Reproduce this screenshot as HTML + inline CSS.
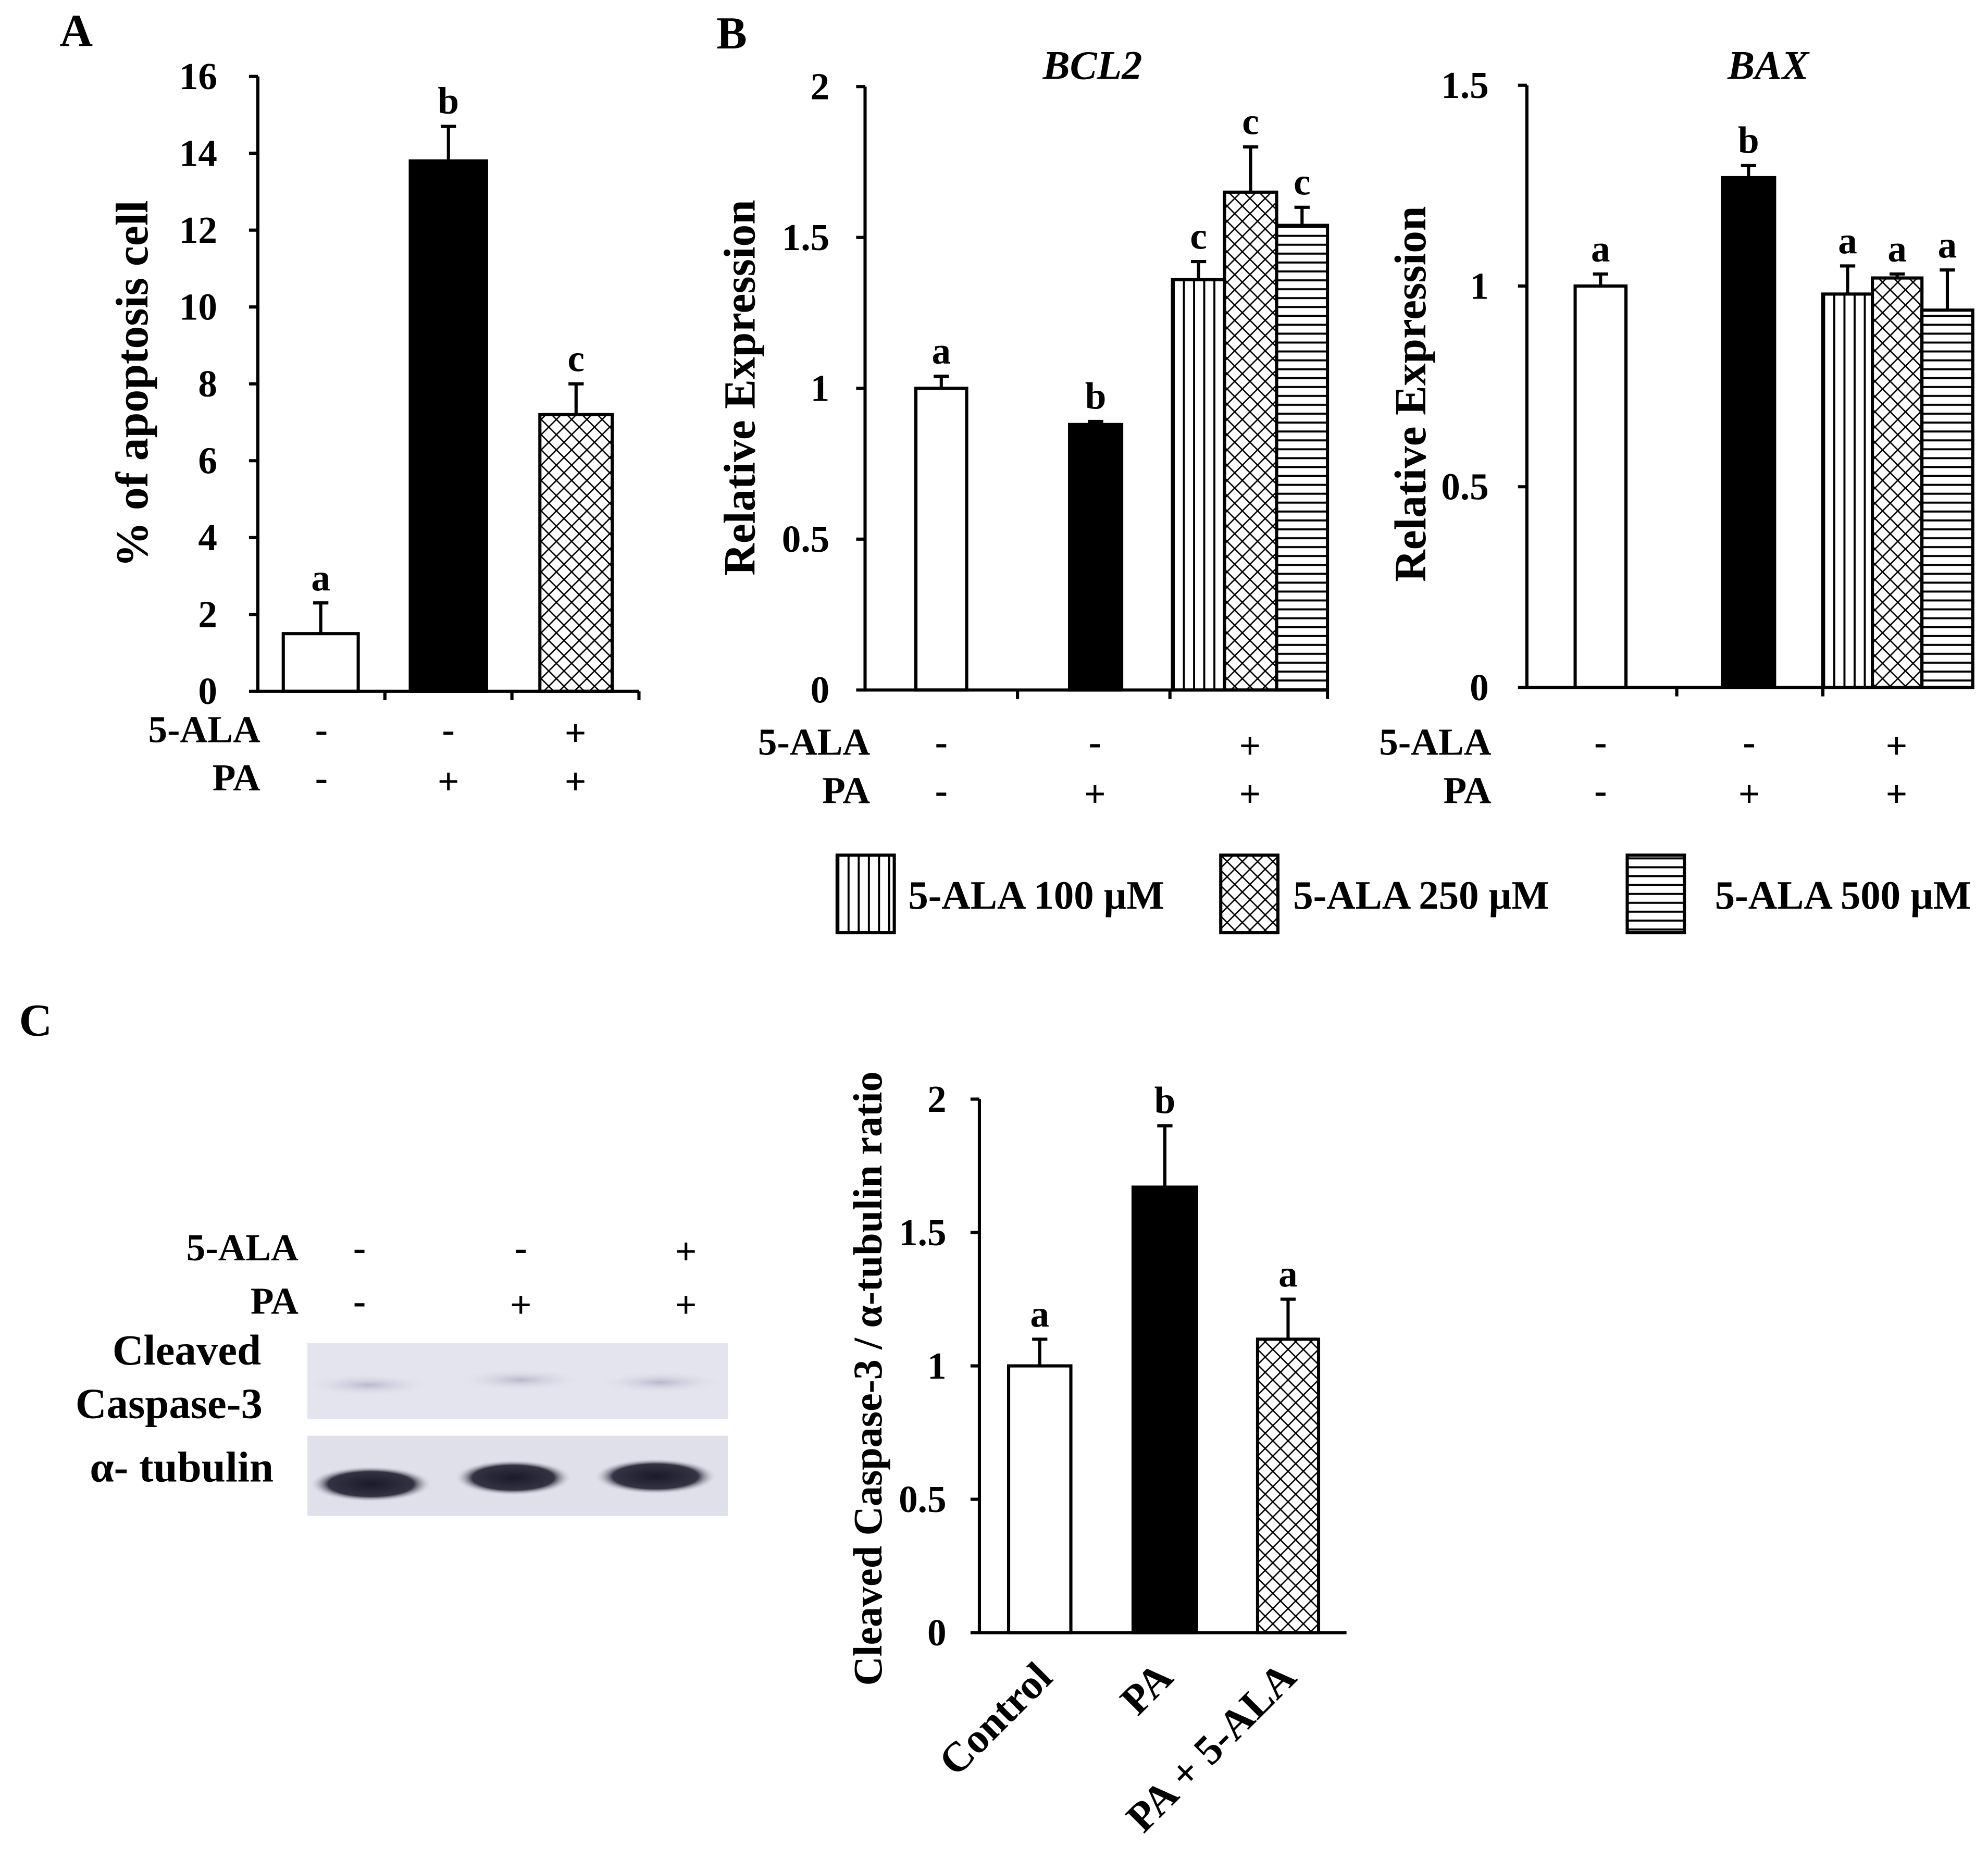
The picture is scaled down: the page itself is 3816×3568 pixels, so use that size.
<!DOCTYPE html>
<html><head><meta charset="utf-8"><style>
html,body{margin:0;padding:0;background:#fff}
svg{display:block}
text{font-family:"Liberation Serif",serif;font-weight:bold;fill:#000}
</style></head><body>
<svg id="s" width="3816" height="3568" viewBox="0 0 1565 1463" xmlns="http://www.w3.org/2000/svg">
<defs>
<pattern id="pv" width="8" height="8" patternUnits="userSpaceOnUse"><rect width="8" height="8" fill="#fff"/><line x1="4" y1="0" x2="4" y2="8" stroke="#000" stroke-width="1.6"/></pattern>
<pattern id="ph" width="7" height="7" patternUnits="userSpaceOnUse"><rect width="7" height="7" fill="#fff"/><line x1="0" y1="3.5" x2="7" y2="3.5" stroke="#000" stroke-width="1.6"/></pattern>
<pattern id="px" width="12" height="12" patternUnits="userSpaceOnUse"><rect width="12" height="12" fill="#fff"/><path d="M0 0L12 12M12 0L0 12" stroke="#000" stroke-width="1.1"/></pattern>
<radialGradient id="band" cx="50%" cy="50%" r="50%"><stop offset="0" stop-color="#1a1a2a"/><stop offset="0.7" stop-color="#333344"/><stop offset="1" stop-color="#dcdce8" stop-opacity="0"/></radialGradient>
<radialGradient id="fband" cx="50%" cy="50%" r="50%"><stop offset="0" stop-color="#b8b8cc"/><stop offset="1" stop-color="#e6e6f0" stop-opacity="0"/></radialGradient>
</defs>
<g id="root"></g>
</svg>
<script>
// ---- Panel A data ----
const aValues=[1.5,13.8,7.2];
const aErrors=[0.8,0.9,0.8];
const aLetters=["a","b","c"];
const aTicks=[0,2,4,6,8,10,12,14,16];
// ---- Panel B BCL2 ----
const bclValues=[1.0,0.88,1.36,1.65,1.54];
const bclErrors=[0.04,0.01,0.06,0.15,0.06];
const bclLetters=["a","b","c","c","c"];
const bclTicks=[0,0.5,1,1.5,2];
// ---- Panel B BAX ----
const baxValues=[1.0,1.27,0.98,1.02,0.94];
const baxErrors=[0.03,0.03,0.07,0.01,0.1];
const baxLetters=["a","b","a","a","a"];
const baxTicks=[0,0.5,1,1.5];
// ---- Panel C ----
const cCategories=["Control","PA","PA + 5-ALA"];
const cValues=[1.0,1.67,1.1];
const cErrors=[0.1,0.23,0.15];
const cLetters=["a","b","a"];
const cTicks=[0,0.5,1,1.5,2];

const NS="http://www.w3.org/2000/svg";
const root=document.getElementById('root');
function mk(tag,attrs,parent,txt){const e=document.createElementNS(NS,tag);for(const k in attrs)e.setAttribute(k,attrs[k]);if(txt!==undefined)e.textContent=txt;(parent||root).appendChild(e);return e;}
function txt(x,y,s,size,anchor,parent,extra){const e=mk('text',Object.assign({x:x,y:y,'font-size':size,'text-anchor':anchor||'middle'},extra||{}),parent,s);return e;}

function chart(cfg){
  const g=mk('g',{});
  
  
  const y=v=>cfg.y0-(v/cfg.max)*(cfg.y0-cfg.yTop);
  cfg.values.forEach((v,i)=>{
    const b=cfg.bars[i];
    const r=mk('rect',{x:b[0],y:y(v),width:b[1]-b[0],height:cfg.y0-y(v),fill:cfg.fills[i],stroke:'#000','stroke-width':2.5},g);
    
    
    const cx=(b[0]+b[1])/2, top=y(v+cfg.errors[i]);
    const eb=mk('path',{d:`M${cx} ${y(v)}V${top}M${cx-6} ${top}H${cx+6}`,stroke:'#000','stroke-width':2.5,fill:'none'},g);
    
    
    const l=txt(cx,top-10,cfg.letters[i],cfg.fs,'middle',g);
    
    
  });
  const ax=mk('path',{d:`M${cfg.x0} ${cfg.yTop}V${cfg.y0}H${cfg.xEnd}`,stroke:'#000','stroke-width':2.5,fill:'none'},g);
  
  
  cfg.ticks.forEach(t=>{
    mk('line',{x1:cfg.x0-7,x2:cfg.x0,y1:y(t),y2:y(t),stroke:'#000','stroke-width':2.5},g);
    const tl=txt(cfg.x0-cfg.tlOff,y(t)+10,String(t),cfg.fs,'end',g);
    
    
  });
  (cfg.xticks||[]).forEach(xt=>mk('line',{x1:xt,x2:xt,y1:cfg.y0,y2:cfg.y0+7,stroke:'#000','stroke-width':2.5},g));
  const yt=txt(0,0,cfg.ytitle,cfg.yfs,'middle',g,{transform:`translate(${cfg.ytx},${cfg.yty}) rotate(-90)`});
  
  
  return g;
}
function signs(rows,cols,labelX,fs){
  rows.forEach(r=>{
    const l=txt(labelX,r.y,r.label,fs,'end');
    
    
    r.s.forEach((c,i)=>{const e=txt(cols[i],r.y+(c==='-'?0:3),c,fs,'middle');
      
      });
  });
}
[["A",60,36],["B",576,38],["C",28,815]].forEach(p=>{const e=txt(p[1],p[2],p[0],36,'middle');
  
  });

chart({name:'chart-apoptosis',values:aValues,errors:aErrors,letters:aLetters,ticks:aTicks,max:16,
 x0:203,y0:544,yTop:60,xEnd:503,bars:[[223,282],[323,383],[425,482]],fills:['#fff','#000','url(#px)'],
 xticks:[303,403,503],fs:30,tlOff:32,ytitle:'% of apoptosis cell',yfs:36,ytx:116,yty:302});
signs([{label:'5-ALA',y:584,s:['-','-','+']},{label:'PA',y:622,s:['-','+','+']}],[253,353,453],205,30);

chart({name:'chart-bcl2',values:bclValues,errors:bclErrors,letters:bclLetters,ticks:bclTicks,max:2,
 x0:681,y0:543,yTop:68,xEnd:1045,bars:[[721,761],[842,883],[923,964],[964,1005],[1005,1045]],
 fills:['#fff','#000','url(#pv)','url(#px)','url(#ph)'],xticks:[801,921,1045],fs:30,tlOff:28,
 ytitle:'Relative Expression',yfs:35,ytx:594,yty:305});
{const t=txt(860,62,'BCL2',32,'middle',null,{'font-style':'italic'});}
signs([{label:'5-ALA',y:594,s:['-','-','+']},{label:'PA',y:632,s:['-','+','+']}],[741,862,984],685,30);

chart({name:'chart-bax',values:baxValues,errors:baxErrors,letters:baxLetters,ticks:baxTicks,max:1.5,
 x0:1202,y0:541,yTop:67,xEnd:1553,bars:[[1240,1280],[1356,1397],[1435,1474],[1474,1513],[1513,1553]],
 fills:['#fff','#000','url(#pv)','url(#px)','url(#ph)'],xticks:[1320,1435],fs:30,tlOff:30,
 ytitle:'Relative Expression',yfs:35,ytx:1122,yty:310});
{const t=txt(1392,62,'BAX',32,'middle',null,{'font-style':'italic'});}
signs([{label:'5-ALA',y:594,s:['-','-','+']},{label:'PA',y:632,s:['-','+','+']}],[1260,1377,1493],1174,30);

[[659,'url(#pv)','5-ALA 100 μM',715],[961,'url(#px)','5-ALA 250 μM',1018],[1281,'url(#ph)','5-ALA 500 μM',1350]].forEach((l,i)=>{
  const g=mk('g',{});
  
  
  mk('rect',{x:l[0],y:673,width:45,height:61,fill:l[1],stroke:'#000','stroke-width':2.5},g);
  txt(l[3],715,l[2],31.5,'start',g);
});

signs([{label:'5-ALA',y:992,s:['-','-','+']},{label:'PA',y:1034,s:['-','+','+']}],[283,410,540],235,30);
{
 const g=mk('g',{});
 
 
 mk('rect',{x:242,y:1057,width:331,height:60,fill:'#e4e4ee'},g);
 [[290,1090],[410,1086],[520,1088]].forEach(p=>mk('ellipse',{cx:p[0],cy:p[1],rx:52,ry:9,fill:'url(#fband)'},g));
 mk('rect',{x:242,y:1130,width:331,height:63,fill:'#e0e0ea'},g);
 [[292,1168,48],[404,1163,46],[516,1162,48]].forEach(p=>mk('ellipse',{cx:p[0],cy:p[1],rx:p[2],ry:14,fill:'url(#band)'},g));
 txt(147,1074,'Cleaved',34,'middle');
 txt(133,1116,'Caspase-3',34,'middle');
 txt(143,1166,'α- tubulin',34,'middle');
}

chart({name:'chart-caspase',values:cValues,errors:cErrors,letters:cLetters,ticks:cTicks,max:2,
 x0:771,y0:1285,yTop:865,xEnd:1060,bars:[[794,843],[892,942],[990,1038]],fills:['#fff','#000','url(#px)'],
 xticks:[],fs:30,tlOff:26,ytitle:'Cleaved Caspase-3 / α-tubulin ratio',yfs:32,ytx:694,yty:1085});
[[830,1322],[925,1322],[1022,1322]].forEach((p,i)=>{
  const e=txt(0,0,cCategories[i],33,'end',null,{transform:`translate(${p[0]},${p[1]}) rotate(-45)`});
  
  
});
</script>
</body></html>
